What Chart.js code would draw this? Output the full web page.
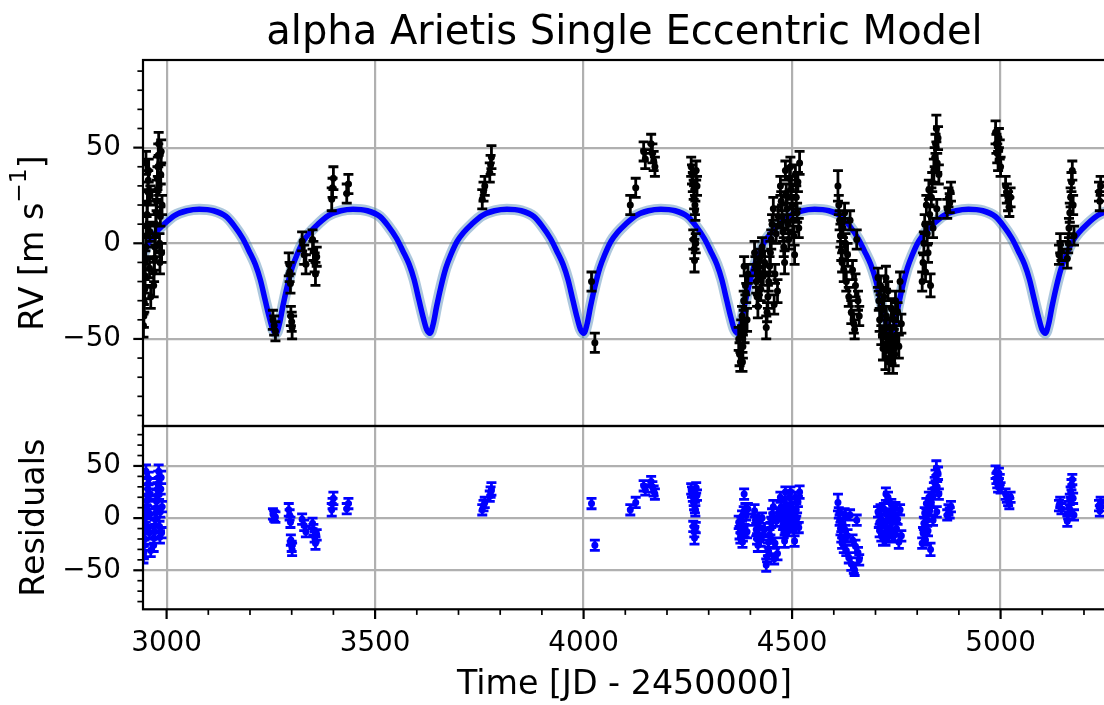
<!DOCTYPE html>
<html>
<head>
<meta charset="utf-8">
<title>alpha Arietis Single Eccentric Model</title>
<script src="https://cdn.jsdelivr.net/npm/chart.js@4.4.1/dist/chart.umd.min.js"></script>
<style>
  html, body { margin: 0; padding: 0; background: #fff; overflow: hidden; }
  #wrap { position: relative; width: 1104px; height: 705px; overflow: hidden; }
  #wrap canvas { position: absolute; left: 0; top: 0; }
</style>
</head>
<body>
<div id="wrap">
  <canvas id="rv-chart" width="1110" height="705"></canvas>
  <canvas id="resid-chart" width="1110" height="705"></canvas>
</div>
<script>
// Observations, one row per observing season
const obsTime = [
  2944.5, 2945.5, 2946.5, 2947.5, 2948.5, 2949, 2950, 2950.5, 2951, 2952, 2953, 2954, 2955, 2956, 2957, 2959, 2960, 2961, 2962,
  2969, 2970, 2971, 2972, 2973, 2974, 2975, 2976, 2977, 2978, 2979, 2980, 2981, 2982, 2983, 2984, 2985, 2986, 2987, 2988, 2989,
  3255, 3258, 3261,
  3293, 3295, 3297, 3298, 3300, 3301,
  3325, 3330, 3334,
  3350, 3352, 3355, 3357, 3360,
  3396, 3398, 3400,
  3432, 3436,
  3757, 3760, 3763, 3775, 3777, 3779,
  4019, 4027, 4112, 4125,
  4144, 4148, 4162, 4165, 4168, 4171,
  4258, 4260, 4262, 4263, 4264, 4265, 4265.5, 4266, 4267, 4268, 4269, 4270, 4272,
  4372, 4374, 4376, 4378, 4380, 4381, 4382, 4384, 4385, 4386, 4388, 4390, 4392, 4394,
  4410, 4412, 4414, 4416, 4418, 4420, 4422, 4425, 4428, 4431, 4434,
  4438, 4440, 4442, 4444, 4446, 4448, 4450, 4452, 4455, 4457, 4459, 4462, 4465, 4467,
  4472, 4474, 4476, 4478, 4480, 4482, 4484, 4486, 4488, 4490, 4492, 4494, 4496, 4498, 4500, 4502, 4504, 4506, 4508, 4510, 4512, 4514, 4516, 4518,
  4610, 4612, 4614, 4616, 4618, 4620, 4622, 4624, 4626, 4628, 4630, 4633, 4636, 4639, 4642, 4645, 4648, 4650, 4652, 4655, 4658, 4661,
  4706, 4708, 4710, 4712, 4714, 4716, 4718, 4720, 4722, 4724, 4725, 4726, 4728, 4730, 4732, 4734, 4736, 4738, 4740, 4742, 4744, 4746, 4748, 4750, 4753, 4756, 4759, 4762,
  4812, 4814, 4816, 4818, 4820, 4822, 4824, 4826, 4828, 4830, 4832, 4834, 4836, 4838, 4840, 4842, 4844, 4846, 4847, 4848, 4850, 4852,
  4872, 4875, 4878, 4881,
  4988, 4990, 4992, 4994, 4996, 4998, 5000,
  5012, 5015, 5018, 5021, 5024,
  5140, 5143, 5146,
  5160, 5162, 5164, 5166, 5168, 5170, 5172, 5174, 5176,
  5236, 5238, 5240
];
const obsRV = [
  -43, -38, -31, -24, -17, -9, -2, 42, 4, 9, 15, 21, 27, 33, 38, -13, 6, 25, -28,
  -22, -15, -8, -2, 4, 10, 16, 22, 28, 34, 40, 46, 52, 30, 0, -10, 14, 36, 48, -5, 20,
  -40, -43, -46,
  -11, -15, -21, -38, -41, -44,
  1, -6, -11,
  2, -4, -10, -16, -7,
  23, 29, 34,
  26, 31,
  23, 27, 30, 37, 41, 45,
  -20, -52, 20, 29,
  48, 44, 52, 47, 43, 40,
  40, 36, 32, 2, 28, 24, -3, -9, 20, 17, 0, 38, 30,
  -50, -58, -62, -45, -38, -62, -54, -30, -12, -46, -22, -26, -40, -16,
  -5, -12, -20, -28, -33, -15, -8, -24, -2, -17, -10,
  -44, -36, -28, -20, -12, -5, 2, 10, 18, -32, -16, 5, -25, 14,
  30, 22, 14, 6, -2, -10, 38, 26, 18, 10, 2, 34, 40, 28, 20, 12, 4, -6, 36, 24, 16, 32, 8, 42,
  30, 20, 12, 4, -4, -10, 8, -14, 16, 0, -20, -6, -28, 12, -36, -14, -42, -45, -22, 2, -30, -38,
  -18, -30, -40, -22, -48, -35, -55, -28, -45, -60, -18, -38, -52, -25, -62, -44, -56, -34, -50, -63, -40, -58, -30, -48, -36, -54, -20, -42,
  -20, -10, 0, 10, -15, 20, 5, -5, 28, 15, -22, 24, 32, 8, 38, 45, 52, 60, 18, 42, 55, 36,
  18, 24, 21, 27,
  58, 52, 47, 43, 55, 49, 40,
  30, 26, 22, 19, 24,
  -6, 0, -4,
  -8, 0, 8, 16, 24, 32, 38, 20, 4,
  27, 22, 30
];
const obsErr = [
  6, 6, 5, 5, 6, 5, 5, 6, 6, 5, 5, 6, 5, 5, 6, 5, 5, 5, 6,
  6, 5, 6, 5, 5, 5, 6, 5, 5, 6, 5, 6, 6, 5, 5, 6, 5, 5, 6, 5, 5,
  5, 5, 5,
  6, 5, 5, 5, 5, 6,
  5, 5, 5,
  5, 5, 5, 6, 5,
  6, 5, 6,
  5, 5,
  5, 5, 5, 5, 5, 6,
  5, 5, 5, 5,
  5, 5, 5, 5, 5, 5,
  5, 5, 5, 5, 5, 6, 5, 6, 5, 5, 5, 5, 5,
  6, 6, 5, 5, 5, 5, 6, 5, 5, 6, 5, 5, 6, 5,
  6, 5, 6, 5, 6, 5, 5, 6, 5, 5, 6,
  6, 5, 6, 5, 5, 6, 5, 5, 6, 5, 5, 5, 6, 5,
  5, 5, 6, 5, 5, 6, 5, 5, 6, 5, 5, 6, 5, 5, 5, 6, 5, 5, 5, 6, 5, 5, 5, 6,
  8, 5, 5, 6, 5, 5, 5, 6, 5, 5, 5, 6, 5, 5, 6, 5, 5, 5, 6, 5, 5, 5,
  5, 5, 6, 5, 5, 5, 6, 5, 5, 6, 6, 5, 5, 5, 6, 5, 5, 5, 6, 5, 5, 6, 5, 5, 5, 6, 5, 5,
  5, 5, 6, 5, 5, 5, 6, 5, 5, 5, 6, 5, 5, 5, 6, 5, 5, 7, 5, 5, 6, 5,
  5, 5, 5, 5,
  6, 5, 5, 5, 5, 5, 5,
  5, 5, 5, 5, 5,
  5, 5, 5,
  5, 5, 5, 5, 5, 5, 5, 5, 5,
  5, 5, 5
];
// O - C after subtracting the single-planet model
const residRV = [
  -37, -33, -26, -20, -13, -5, 1, 45, 7, 11, 17, 22, 28, 33, 38, -14, 4, 23, -31,
  -26, -19, -13, -7, -1, 5, 10, 16, 22, 28, 33, 39, 45, 23, -8, -18, 6, 28, 39, -14, 11,
  4, 2, 1,
  8, 3, -4, -21, -27, -30,
  -1, -7, -13,
  -5, -11, -18, -24, -16,
  8, 14, 19,
  9, 14,
  8, 12, 15, 21, 25, 28,
  14, -26, 8, 15,
  31, 27, 35, 30, 26, 23,
  28, 25, 21, -8, 17, 14, -13, -19, 10, 7, -9, 29, 22,
  -4, -14, -19, -4, 2, -23, -16, 6, 23, -12, 9, 3, -13, 9,
  7, -2, -11, -20, -26, -9, -3, -21, 0, -16, -11,
  -45, -37, -30, -23, -16, -10, -4, 4, 11, -39, -24, -3, -34, 5,
  20, 11, 3, -6, -14, -22, 25, 13, 5, -4, -12, 20, 25, 13, 5, -3, -12, -22, 20, 8, 0, 16, -9, 25,
  15, 5, -2, -10, -18, -24, -5, -27, 4, -12, -31, -17, -38, 3, -44, -21, -48, -50, -27, -2, -33, -40,
  6, -4, -12, 8, -17, -2, -20, 9, -7, -20, 23, 4, -9, 20, -17, 2, -10, 13, -4, -18, 4, -16, 10, -10, -1, -23, 8, -17,
  -24, -14, -5, 5, -21, 14, -2, -12, 20, 7, -30, 15, 23, -2, 28, 34, 41, 48, 6, 30, 43, 23,
  3, 8, 5, 11,
  44, 38, 34, 30, 43, 37, 29,
  23, 20, 17, 14, 20,
  12, 15, 9,
  -3, 4, 11, 18, 25, 32, 37, 19, 3,
  12, 7, 15
];

// Best-fit Keplerian curve, sampled densely around each periastron
const modelTime = [
  2943, 2958.8, 2973.8, 2993.8, 3018.8, 3048.8, 3078.3,
  3112.7, 3142.7, 3162.7, 3182.7, 3197.7, 3212.7, 3224.7, 3236.7, 3246.7, 3254.7, 3262.7,
  3270.7, 3278.7, 3288.7, 3300.7, 3312.7, 3327.7, 3342.7, 3362.7, 3387.7, 3417.7, 3447.2,
  3481.6, 3511.6, 3531.6, 3551.6, 3566.6, 3581.6, 3593.6, 3605.6, 3615.6, 3623.6, 3631.6,
  3639.6, 3647.6, 3657.6, 3669.6, 3681.6, 3696.6, 3711.6, 3731.6, 3756.6, 3786.6, 3816.1,
  3850.6, 3880.6, 3900.6, 3920.6, 3935.6, 3950.6, 3962.6, 3974.6, 3984.6, 3992.6, 4000.6,
  4008.6, 4016.6, 4026.6, 4038.6, 4050.6, 4065.6, 4080.6, 4100.6, 4125.6, 4155.6, 4185.1,
  4219.5, 4249.5, 4269.5, 4289.5, 4304.5, 4319.5, 4331.5, 4343.5, 4353.5, 4361.5, 4369.5,
  4377.5, 4385.5, 4395.5, 4407.5, 4419.5, 4434.5, 4449.5, 4469.5, 4494.5, 4524.5, 4554.0,
  4588.4, 4618.4, 4638.4, 4658.4, 4673.4, 4688.4, 4700.4, 4712.4, 4722.4, 4730.4, 4738.4,
  4746.4, 4754.4, 4764.4, 4776.4, 4788.4, 4803.4, 4818.4, 4838.4, 4863.4, 4893.4, 4922.9,
  4957.4, 4987.4, 5007.4, 5027.4, 5042.4, 5057.4, 5069.4, 5081.4, 5091.4, 5099.4, 5107.4,
  5115.4, 5123.4, 5133.4, 5145.4, 5157.4, 5172.4, 5187.4, 5207.4, 5232.4, 5255
];
const modelRV = [
  -6.5, 1, 5.5, 10, 14.5, 17, 17.8,
  17, 14, 9, 2.5, -4, -11, -19, -30, -39, -45, -47,
  -42, -33, -23, -13, -6, 1, 5.5, 10, 14.5, 17, 17.8,
  17, 14, 9, 2.5, -4, -11, -19, -30, -39, -45, -47,
  -42, -33, -23, -13, -6, 1, 5.5, 10, 14.5, 17, 17.8,
  17, 14, 9, 2.5, -4, -11, -19, -30, -39, -45, -47,
  -42, -33, -23, -13, -6, 1, 5.5, 10, 14.5, 17, 17.8,
  17, 14, 9, 2.5, -4, -11, -19, -30, -39, -45, -47,
  -42, -33, -23, -13, -6, 1, 5.5, 10, 14.5, 17, 17.8,
  17, 14, 9, 2.5, -4, -11, -19, -30, -39, -45, -47,
  -42, -33, -23, -13, -6, 1, 5.5, 10, 14.5, 17, 17.8,
  17, 14, 9, 2.5, -4, -11, -19, -30, -39, -45, -47,
  -42, -33, -23, -13, -6, 1, 5.5, 10, 14.5, 16.8
];

// Axis ticks
const timeTicks = [3000, 3500, 4000, 4500, 5000];
const timeMinorTicks = [3100, 3200, 3300, 3400, 3600, 3700, 3800, 3900, 4100, 4200, 4300, 4400,
  4600, 4700, 4800, 4900, 5100, 5200];
const rvTicks = [-50, 0, 50];
const rvMinorTicks = [-90, -80, -70, -60, -40, -30, -20, -10, 10, 20, 30, 40, 60, 70, 80, 90];
const residTicks = [-50, 0, 50];
const residMinorTicks = [-80, -70, -60, -40, -30, -20, -10, 10, 20, 30, 40, 60, 70, 80];

const FONT = "'DejaVu Sans', sans-serif";
const GRID_COLOR = '#b0b0b0';
const PLOT_LEFT = 143;
const PANEL_SPLIT = 426;
const PLOT_BOTTOM = 609.3;
const CANVAS_H = 705;

function minusLabel(v) {
  return v < 0 ? '\u2212' + Math.abs(v) : String(v);
}

function points(xs, ys) {
  return xs.map((t, i) => ({ x: t, y: ys[i] }));
}

// vertical error bars with caps, clipped to the plot area
const errorBars = {
  id: 'errorBars',
  afterDatasetsDraw(chart, args, opts) {
    if (!opts.times) return;
    const { ctx, chartArea: a, scales: { x, y } } = chart;
    ctx.save();
    ctx.beginPath();
    ctx.rect(a.left, a.top, a.right - a.left, a.bottom - a.top);
    ctx.clip();
    ctx.strokeStyle = opts.color;
    ctx.lineWidth = 2.8;
    ctx.beginPath();
    opts.times.forEach((t, i) => {
      const px = x.getPixelForValue(t);
      const lo = y.getPixelForValue(opts.values[i] - opts.errors[i]);
      const hi = y.getPixelForValue(opts.values[i] + opts.errors[i]);
      ctx.moveTo(px, lo); ctx.lineTo(px, hi);
      ctx.moveTo(px - 5, lo); ctx.lineTo(px + 5, lo);
      ctx.moveTo(px - 5, hi); ctx.lineTo(px + 5, hi);
    });
    ctx.stroke();
    ctx.restore();
  }
};

// axes frame plus major/minor tick marks pointing outwards
const axisFrame = {
  id: 'axisFrame',
  afterDraw(chart, args, opts) {
    const { ctx, chartArea: a, scales: { x, y } } = chart;
    ctx.save();
    ctx.strokeStyle = '#000';
    const yMark = (v, len) => {
      const py = y.getPixelForValue(v);
      ctx.beginPath(); ctx.moveTo(a.left - len, py); ctx.lineTo(a.left, py); ctx.stroke();
    };
    const xMark = (v, len) => {
      const px = x.getPixelForValue(v);
      ctx.beginPath(); ctx.moveTo(px, a.bottom); ctx.lineTo(px, a.bottom + len); ctx.stroke();
    };
    ctx.lineWidth = 2.2;
    opts.yMajor.forEach(v => yMark(v, 9.7));
    if (opts.xMajor) opts.xMajor.forEach(v => xMark(v, 9.7));
    ctx.lineWidth = 1.7;
    opts.yMinor.forEach(v => yMark(v, 5.6));
    if (opts.xMinor) opts.xMinor.forEach(v => xMark(v, 5.6));
    ctx.lineWidth = 2.2;
    ctx.strokeRect(a.left, a.top, a.right - a.left, a.bottom - a.top);
    ctx.restore();
  }
};

// title and axis labels
const axisText = {
  id: 'axisText',
  afterDraw(chart, args, opts) {
    const { ctx, chartArea: a } = chart;
    const cx = (a.left + a.right) / 2;
    ctx.save();
    ctx.fillStyle = '#000';
    ctx.textBaseline = 'alphabetic';
    if (opts.title) {
      ctx.font = `40px ${FONT}`;
      ctx.textAlign = 'center';
      ctx.fillText(opts.title, cx, opts.titleY);
    }
    if (opts.xLabel) {
      ctx.font = `33.3px ${FONT}`;
      ctx.textAlign = 'center';
      ctx.fillText(opts.xLabel, cx, opts.xLabelY);
    }
    if (opts.yLabel) {
      const parts = opts.yLabel;
      const fontFor = p => `${p.sup ? 23.3 : 33.3}px ${FONT}`;
      let total = 0;
      parts.forEach(p => { ctx.font = fontFor(p); p.w = ctx.measureText(p.text).width; total += p.w; });
      ctx.translate(opts.yLabelX, (a.top + a.bottom) / 2);
      ctx.rotate(-Math.PI / 2);
      ctx.textAlign = 'left';
      let pos = -total / 2;
      parts.forEach(p => {
        ctx.font = fontFor(p);
        ctx.fillText(p.text, pos, p.sup ? -17 : 0);
        pos += p.w;
      });
    }
    ctx.restore();
  }
};

function timeAxis(withLabels) {
  return {
    type: 'linear',
    min: 2943.4,
    max: 5252.8,
    afterBuildTicks: s => { s.ticks = timeTicks.map(v => ({ value: v })); },
    afterFit: s => { s.height = withLabels ? CANVAS_H - PLOT_BOTTOM : 0; },
    border: { display: false },
    grid: { color: GRID_COLOR, lineWidth: 2.2, drawTicks: false },
    ticks: {
      display: withLabels,
      padding: 18,
      color: '#000',
      font: { family: FONT, size: 27.8 },
      callback: v => String(v)
    }
  };
}

function valueAxis(min, max, ticks) {
  return {
    type: 'linear',
    min: min,
    max: max,
    afterBuildTicks: s => { s.ticks = ticks.map(v => ({ value: v })); },
    afterFit: s => { s.width = PLOT_LEFT; },
    border: { display: false },
    grid: { color: GRID_COLOR, lineWidth: 2.2, drawTicks: false },
    ticks: {
      padding: 22,
      color: '#000',
      font: { family: FONT, size: 27.8 },
      callback: v => minusLabel(v)
    }
  };
}

const baseOptions = {
  responsive: false,
  animation: false,
  devicePixelRatio: 1,
  events: []
};

const modelPoints = points(modelTime, modelRV);

new Chart(document.getElementById('rv-chart'), {
  type: 'scatter',
  data: {
    datasets: [
      {
        data: points(obsTime, obsRV),
        pointRadius: 3.5,
        pointBackgroundColor: '#000',
        pointBorderWidth: 0,
        clip: 0,
        order: 1
      },
      {
        data: modelPoints,
        showLine: true,
        pointRadius: 0,
        borderColor: '#0000ff',
        borderWidth: 5.5,
        cubicInterpolationMode: 'monotone',
        clip: 0,
        order: 2
      },
      {
        data: modelPoints,
        showLine: true,
        pointRadius: 0,
        borderColor: 'rgba(70, 130, 180, 0.45)',
        borderWidth: 11,
        cubicInterpolationMode: 'monotone',
        clip: 0,
        order: 3
      }
    ]
  },
  options: {
    ...baseOptions,
    layout: { padding: { top: 60, bottom: CANVAS_H - PANEL_SPLIT, left: 0, right: 0 } },
    scales: {
      x: timeAxis(false),
      y: valueAxis(-95.5, 95.8, rvTicks)
    },
    plugins: {
      legend: { display: false },
      tooltip: { enabled: false },
      errorBars: { times: obsTime, values: obsRV, errors: obsErr, color: '#000' },
      axisFrame: { yMajor: rvTicks, yMinor: rvMinorTicks },
      axisText: {
        title: 'alpha Arietis Single Eccentric Model',
        titleY: 43.5,
        yLabelX: 43,
        yLabel: [{ text: 'RV [m s' }, { text: '\u22121', sup: true }, { text: ']' }]
      }
    }
  },
  plugins: [errorBars, axisFrame, axisText]
});

new Chart(document.getElementById('resid-chart'), {
  type: 'scatter',
  data: {
    datasets: [
      {
        data: points(obsTime, residRV),
        pointRadius: 3.5,
        pointBackgroundColor: '#0000ff',
        pointBorderWidth: 0,
        clip: 0
      }
    ]
  },
  options: {
    ...baseOptions,
    layout: { padding: { top: PANEL_SPLIT, bottom: 0, left: 0, right: 0 } },
    scales: {
      x: timeAxis(true),
      y: valueAxis(-87.4, 88.3, residTicks)
    },
    plugins: {
      legend: { display: false },
      tooltip: { enabled: false },
      errorBars: { times: obsTime, values: residRV, errors: obsErr, color: '#0000ff' },
      axisFrame: { yMajor: residTicks, yMinor: residMinorTicks, xMajor: timeTicks, xMinor: timeMinorTicks },
      axisText: {
        xLabel: 'Time [JD - 2450000]',
        xLabelY: 694,
        yLabelX: 44,
        yLabel: [{ text: 'Residuals' }]
      }
    }
  },
  plugins: [errorBars, axisFrame, axisText]
});
</script>
</body>
</html>
